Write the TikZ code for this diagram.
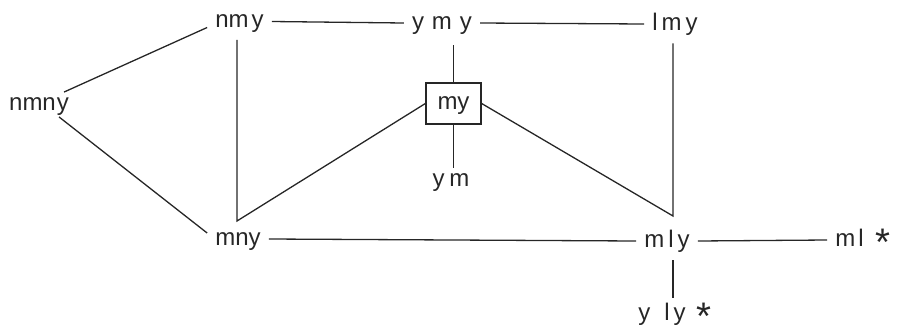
\documentclass[tikz,border=0pt]{standalone}
\usepackage{fontspec}
\setmainfont{Liberation Sans}
\newcommand\astx{\raisebox{-0.38em}{\scalebox{1.6}{*}}}
\begin{document}
\begin{tikzpicture}[x=1pt,y=-1pt,
  lbl/.style={font=\fontsize{24}{28}\selectfont, text=black!85, inner xsep=8pt, inner ysep=6pt, text height=12.5pt, text depth=0pt},
  boxnode/.style={lbl, draw=black!85, line width=1.3pt, minimum width=55pt, minimum height=41pt, inner sep=0pt},
  edge/.style={line width=1.3pt, draw=black!85}]
\useasboundingbox (0,0) rectangle (898,335);
\node[lbl] (nmy) at (239.5,21.5) {nm\hspace{3pt}y};
\node[lbl] (ymy) at (442,23) {y\hspace{8pt}m\hspace{8pt}y};
\node[lbl] (lmy) at (675,24) {l\hspace{4pt}m\hspace{4pt}y};
\node[lbl] (nmny) at (39,104.5) {nmn\hspace{1pt}y};
\node[boxnode] (my) at (453.5,103.5) {my};
\node[lbl] (ym) at (451,180) {y\hspace{5pt}m};
\node[lbl] (mny) at (238,239) {mny};
\node[lbl] (mly) at (667,241) {m\hspace{4pt}l\hspace{4pt}y};
\node[lbl] (ml) at (863,240) {m\hspace{3pt}l\hspace{12pt}\astx};
\node[lbl] (yly) at (675,314) {y\hspace{14pt}l\hspace{4pt}y\hspace{11pt}\astx};
\coordinate (apexL) at (237,221);
\coordinate (apexR) at (673,216);
\draw[edge] (nmy.east) -- (ymy.west);
\draw[edge] (ymy.east) -- (lmy.west);
\draw[edge] ([xshift=-13pt]nmny.north east) -- ([yshift=-6pt]nmy.west);
\draw[edge] ([xshift=-18pt]nmny.south east) -- ([yshift=6pt]mny.west);
\draw[edge, shorten <=6pt] (nmy.south -| apexL) -- (apexL) -- (my.west);
\draw[edge, shorten >=10pt] (my.north) -- (my.north |- ymy.south);
\draw[edge] (my.south) -- (my.south |- ym.north);
\draw[edge, shorten >=7pt] (my.east) -- (apexR) -- (lmy.south -| apexR);
\draw[edge] (mny.east) -- (mly.west);
\draw[edge] (mly.east) -- (ml.west);
\draw[edge, shorten <=7pt, shorten >=4pt] (mly.south -| apexR) -- (yly.north -| apexR);
\end{tikzpicture}
\end{document}
